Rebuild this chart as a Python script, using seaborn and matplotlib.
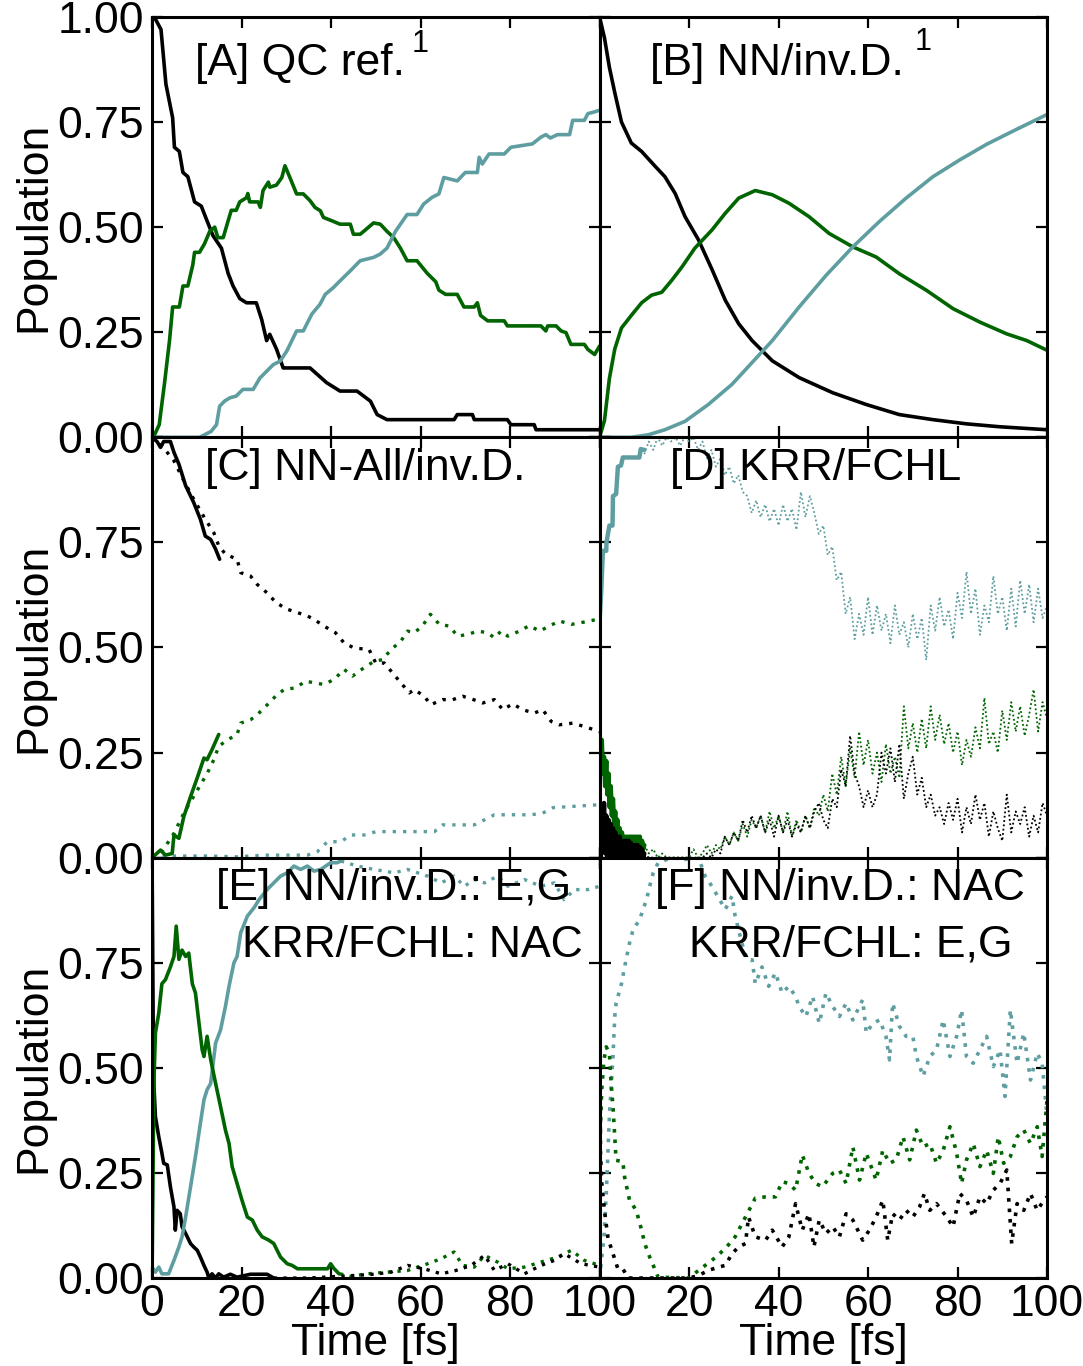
import matplotlib
matplotlib.use('Agg')
import numpy as np
import seaborn as sns
import matplotlib.pyplot as plt

BLACK = 'black'
GREEN = '#006400'
TEAL = '#5f9ea0'

# ---------------- [A] QC reference ----------------
a_black_t = [0, 0.5, 2, 3.1, 4.6, 5, 6.1, 6.9, 8, 9.5, 11, 12.1, 13.6, 15.5, 17, 18.1, 19.6, 21.1, 23.3,
             24.5, 25.6, 26.3, 27.8, 29.3, 35.3, 39, 42, 45.8, 48.8, 50.3, 52.5, 67.5, 68.2, 71.6, 72,
             79.4, 80.2, 85.4, 85.8, 100]
a_black = [1.0, 1.0, 0.97, 0.84, 0.76, 0.69, 0.68, 0.63, 0.62, 0.56, 0.55, 0.52, 0.48, 0.45, 0.39, 0.36,
           0.33, 0.32, 0.32, 0.28, 0.23, 0.245, 0.21, 0.165, 0.165, 0.13, 0.11, 0.11, 0.086, 0.054, 0.042,
           0.042, 0.054, 0.054, 0.042, 0.042, 0.03, 0.03, 0.018, 0.018]
a_green_t = [0, 0.3, 1.6, 2.8, 3.9, 4.6, 6.1, 6.9, 8, 9.1, 9.5, 10.6, 11.7, 12.9, 14, 14.7, 15.9, 17, 17.7,
             18.8, 19.6, 21.1, 21.4, 21.8, 23.7, 24.2, 24.8, 26, 26.3, 27.8, 29, 29.7, 30.8, 32.3, 33.8,
             35.3, 36.4, 37.6, 38.3, 40.2, 42, 44.3, 45, 46.5, 47.3, 48.4, 49.5, 51, 52.5, 54, 55.5, 57,
             59.2, 61.5, 63.4, 64.1, 65.6, 68.2, 69.7, 72, 72.7, 73.4, 75, 78.7, 79.4, 86.9, 88, 88.4,
             90.3, 91.4, 92.5, 93.6, 96.6, 97.4, 98.9, 100]
a_green = [0.0, 0.0, 0.03, 0.13, 0.23, 0.31, 0.31, 0.36, 0.36, 0.41, 0.44, 0.44, 0.46, 0.49, 0.50, 0.475,
           0.475, 0.515, 0.54, 0.54, 0.56, 0.57, 0.58, 0.56, 0.56, 0.547, 0.587, 0.607, 0.595, 0.60, 0.618,
           0.646, 0.618, 0.579, 0.579, 0.563, 0.547, 0.539, 0.523, 0.515, 0.507, 0.507, 0.483, 0.483, 0.49,
           0.50, 0.51, 0.507, 0.49, 0.475, 0.45, 0.42, 0.42, 0.39, 0.37, 0.35, 0.34, 0.34, 0.31, 0.31, 0.32,
           0.29, 0.277, 0.277, 0.265, 0.265, 0.253, 0.265, 0.265, 0.253, 0.249, 0.221, 0.221, 0.209, 0.197,
           0.217]
a_teal_t = [0, 10.6, 13.2, 14.4, 15.1, 16.2, 17.4, 18.8, 20.3, 22.6, 24.1, 25.6, 27.1, 28.6, 30.1, 32.3,
            33.8, 35.7, 37.5, 38.7, 40.5, 42, 44.3, 46.5, 49.5, 51, 52.5, 54.4, 57, 59.2, 60.7, 62.6, 64.1,
            65.2, 68.2, 70, 72.7, 73.1, 73.8, 75.3, 78.7, 80.2, 85, 86.9, 88, 89, 90.6, 93.3, 94, 96.6,
            97.4, 98.5, 100]
a_teal = [0, 0, 0.014, 0.03, 0.074, 0.086, 0.094, 0.098, 0.114, 0.114, 0.141, 0.157, 0.173, 0.181, 0.205,
          0.253, 0.253, 0.293, 0.316, 0.34, 0.356, 0.372, 0.396, 0.42, 0.428, 0.436, 0.45, 0.49, 0.53, 0.53,
          0.555, 0.571, 0.579, 0.618, 0.61, 0.63, 0.63, 0.666, 0.65, 0.674, 0.674, 0.69, 0.698, 0.714,
          0.72, 0.712, 0.72, 0.72, 0.754, 0.754, 0.77, 0.773, 0.778]

# ---------------- [B] NN/inv.D. ----------------
b_black_t = [0, 1.1, 2.2, 3.4, 4.9, 7.1, 9.4, 12.4, 14.6, 16.9, 19.1, 22.1, 25.1, 28.1, 31.1, 34.1, 38.6,
             44.6, 52.1, 59.6, 67, 74.5, 82, 89.5, 100]
b_black = [1.0, 0.95, 0.88, 0.82, 0.75, 0.70, 0.68, 0.645, 0.62, 0.58, 0.525, 0.47, 0.40, 0.326, 0.27,
           0.23, 0.182, 0.142, 0.106, 0.078, 0.054, 0.042, 0.032, 0.025, 0.018]
b_green_t = [0, 1.1, 2.2, 3.4, 4.9, 7.1, 9.4, 11.6, 13.9, 16.1, 18.4, 21.3, 25.1, 28.1, 31.1, 34.8, 38.6,
             42.3, 46.8, 51.3, 56.6, 61.8, 67, 73, 79, 85, 91, 95.5, 100]
b_green = [0.0, 0.04, 0.14, 0.21, 0.26, 0.29, 0.32, 0.338, 0.345, 0.373, 0.405, 0.45, 0.493, 0.533, 0.569,
           0.587, 0.577, 0.557, 0.525, 0.485, 0.453, 0.429, 0.389, 0.35, 0.306, 0.274, 0.246, 0.23, 0.207]
b_teal_t = [0, 7.1, 10.9, 14.6, 19.1, 24.3, 29.6, 34.1, 38.6, 44.6, 50.6, 56.6, 62.5, 68.5, 74.5, 80.5,
            86.5, 92.5, 100]
b_teal = [0, 0, 0.006, 0.018, 0.038, 0.078, 0.126, 0.178, 0.23, 0.31, 0.385, 0.453, 0.513, 0.569, 0.62,
          0.66, 0.697, 0.729, 0.768]

# ---------------- [C] NN-All/inv.D. ----------------
c_black_solid_t = [0, 1.1, 1.9, 2.6, 4.1, 4.9, 6, 7.5, 9.3, 10.8, 11.9, 13.1, 14.2, 15.1]
c_black_solid = [1.0, 0.99, 0.976, 0.99, 0.99, 0.964, 0.936, 0.885, 0.845, 0.805, 0.765, 0.757, 0.734, 0.71]
c_green_solid_t = [0, 1.9, 3, 4.5, 4.9, 6, 7.1, 8.6, 10.1, 11.6, 12.3, 13.4, 14.9]
c_green_solid = [0.0, 0.018, 0.006, 0.01, 0.054, 0.046, 0.098, 0.145, 0.19, 0.237, 0.233, 0.257, 0.293]
c_black_t = [0, 2.2, 4.9, 6.7, 9.3, 11.9, 13.8, 14.9, 16.4, 19, 19.8, 22, 23.5, 25.7, 27.6, 29.9, 32.5,
             34.7, 36.2, 38.4, 41, 42.9, 45.1, 48.5, 50, 51.9, 53.7, 55.6, 57.5, 58.6, 60.8, 62.3, 64.9,
             67.2, 69.4, 71.3, 73.9, 76.5, 78.4, 80.6, 82.8, 85.4, 87.3, 89.2, 91, 94, 96.6, 100]
c_black = [1.0, 0.98, 0.944, 0.905, 0.853, 0.805, 0.773, 0.742, 0.722, 0.71, 0.678, 0.67, 0.65, 0.63,
           0.608, 0.592, 0.583, 0.575, 0.567, 0.551, 0.535, 0.511, 0.499, 0.495, 0.463, 0.463, 0.44, 0.416,
           0.392, 0.40, 0.384, 0.364, 0.376, 0.376, 0.384, 0.378, 0.368, 0.376, 0.352, 0.366, 0.352, 0.344,
           0.352, 0.324, 0.316, 0.32, 0.312, 0.30]
c_green_t = [0, 2.2, 4.9, 7.1, 9.7, 12.3, 13.8, 14.9, 16.8, 19, 19.8, 22, 23.5, 25.4, 27.6, 29.5, 32.1,
             34.3, 36.2, 38.4, 40.7, 42.9, 44.8, 47, 49.6, 51.5, 53.4, 55.6, 57.1, 58.6, 60.4, 62.2, 64.2,
             66.4, 68.3, 70.5, 72.8, 75, 76.5, 78, 79.5, 82.1, 84.3, 86.6, 88.8, 91, 93.7, 96.3, 100]
c_green = [0, 0.014, 0.058, 0.106, 0.153, 0.2, 0.233, 0.265, 0.28, 0.293, 0.32, 0.328, 0.34, 0.36, 0.384,
           0.40, 0.404, 0.42, 0.416, 0.412, 0.424, 0.448, 0.432, 0.449, 0.467, 0.471, 0.495, 0.515, 0.539,
           0.535, 0.551, 0.579, 0.555, 0.551, 0.527, 0.531, 0.539, 0.535, 0.523, 0.539, 0.527, 0.539, 0.552,
           0.539, 0.551, 0.563, 0.555, 0.56, 0.568]
c_teal_t = [0, 12.3, 19, 25, 34.7, 36.9, 39.2, 42.2, 44.4, 47.8, 50, 63.1, 64.9, 72, 74.3, 76.5, 84.7,
            87.3, 89.6, 100]
c_teal = [0.004, 0.004, 0.002, 0.006, 0.006, 0.014, 0.038, 0.038, 0.054, 0.054, 0.062, 0.062, 0.078,
          0.078, 0.09, 0.102, 0.102, 0.106, 0.119, 0.126]

# ---------------- [D] KRR/FCHL ----------------
d_solid_t = np.arange(0, 10.01, 0.25)
d_green_solid = [0.31, 0.21, 0.28, 0.20, 0.24, 0.17, 0.23, 0.15, 0.20, 0.12, 0.17, 0.10, 0.14, 0.08, 0.11,
                 0.06, 0.09, 0.05, 0.07, 0.03, 0.06, 0.02, 0.05, 0.02, 0.05, 0.01, 0.05, 0.02, 0.05, 0.01,
                 0.05, 0.02, 0.05, 0.01, 0.05, 0.02, 0.05, 0.01, 0.04, 0.02, 0.03]
d_black_solid = [0.15, 0.0, 0.12, 0.02, 0.13, 0.01, 0.10, 0.0, 0.09, 0.02, 0.08, 0.0, 0.07, 0.01, 0.06,
                 0.0, 0.05, 0.01, 0.05, 0.0, 0.04, 0.01, 0.04, 0.0, 0.04, 0.01, 0.04, 0.0, 0.035, 0.01,
                 0.03, 0.0, 0.03, 0.01, 0.03, 0.0, 0.025, 0.005, 0.02, 0.0, 0.01]
d_teal_solid_t = [0, 0.05, 0.4, 0.75, 1.5, 1.55, 2.2, 2.9, 3.0, 3.7, 4.1, 4.8, 5.2, 8.9, 9.2, 10]
d_teal_solid = [0, 0.57, 0.64, 0.73, 0.73, 0.75, 0.79, 0.79, 0.86, 0.865, 0.93, 0.933, 0.952, 0.952,
                0.972, 0.97]
d_dot_t = np.arange(10, 101, 1)
d_teal = [0.96, 0.99, 0.97, 1.0, 0.98, 1.0, 0.99, 1.0, 0.98, 1.0,
          0.99, 1.0, 0.97, 0.99, 0.95, 0.97, 0.93, 0.95, 0.91, 0.93,
          0.89, 0.91, 0.87, 0.86, 0.82, 0.85, 0.81, 0.84, 0.80, 0.83,
          0.79, 0.84, 0.80, 0.83, 0.78, 0.87, 0.81, 0.86, 0.82, 0.77,
          0.79, 0.72, 0.74, 0.66, 0.68, 0.58, 0.62, 0.52, 0.58, 0.53,
          0.62, 0.53, 0.60, 0.54, 0.58, 0.51, 0.60, 0.53, 0.56, 0.50,
          0.58, 0.52, 0.57, 0.47, 0.60, 0.54, 0.62, 0.55, 0.59, 0.52,
          0.63, 0.57, 0.68, 0.58, 0.64, 0.53, 0.60, 0.56, 0.67, 0.58,
          0.62, 0.54, 0.64, 0.55, 0.66, 0.58, 0.65, 0.56, 0.64, 0.57,
          0.60]
d_green = [0.03, 0.01, 0.02, 0.0, 0.01, 0.0, 0.0, 0.0, 0.0, 0.0,
           0.0, 0.02, 0.0, 0.01, 0.03, 0.01, 0.03, 0.02, 0.05, 0.03,
           0.06, 0.04, 0.08, 0.05, 0.09, 0.07, 0.10, 0.06, 0.11, 0.07,
           0.10, 0.06, 0.11, 0.05, 0.09, 0.06, 0.10, 0.07, 0.12, 0.10,
           0.15, 0.11, 0.20, 0.15, 0.24, 0.17, 0.26, 0.19, 0.30, 0.22,
           0.28, 0.20, 0.25, 0.18, 0.27, 0.20, 0.24, 0.19, 0.36, 0.26,
           0.32, 0.25, 0.33, 0.26, 0.36, 0.28, 0.34, 0.27, 0.32, 0.25,
           0.30, 0.22, 0.28, 0.24, 0.31, 0.26, 0.38, 0.27, 0.30, 0.25,
           0.35, 0.28, 0.37, 0.30, 0.36, 0.29, 0.34, 0.40, 0.30, 0.37,
           0.33]
d_black = [0.01, 0.0, 0.0, 0.0, 0.0, 0.0, 0.0, 0.0, 0.0, 0.0,
           0.0, 0.0, 0.0, 0.0, 0.01, 0.0, 0.02, 0.01, 0.05, 0.03,
           0.06, 0.04, 0.09, 0.06, 0.10, 0.07, 0.10, 0.06, 0.09, 0.05,
           0.10, 0.06, 0.09, 0.05, 0.08, 0.06, 0.10, 0.07, 0.11, 0.13,
           0.09, 0.07, 0.14, 0.12, 0.21, 0.17, 0.29, 0.20, 0.17, 0.12,
           0.16, 0.12, 0.15, 0.25, 0.20, 0.26, 0.18, 0.27, 0.14, 0.20,
           0.24, 0.15, 0.19, 0.12, 0.15, 0.10, 0.12, 0.08, 0.13, 0.09,
           0.14, 0.06, 0.12, 0.08, 0.15, 0.09, 0.13, 0.05, 0.11, 0.07,
           0.04, 0.15, 0.06, 0.11, 0.08, 0.12, 0.05, 0.10, 0.06, 0.13,
           0.10]

# ---------------- [E] NN/inv.D.: E,G  KRR/FCHL: NAC ----------------
e_black_solid_t = [0, 0.3, 0.4, 0.75, 1.5, 2.2, 2.6, 3.4, 4.1, 4.9, 5.2, 5.6, 6.3, 6.7, 7.5, 8.6, 9.3,
                   10.1, 10.8, 11.6, 12.3, 12.7, 13.4, 14.2, 14.9, 16, 17.5, 19, 22, 25.7, 27.2]
e_black_solid = [1.0, 0.53, 0.463, 0.384, 0.336, 0.297, 0.273, 0.269, 0.217, 0.169, 0.114, 0.161, 0.153,
                 0.122, 0.106, 0.082, 0.074, 0.066, 0.05, 0.03, 0.014, 0.0, 0.01, 0.0, 0.01, 0.002, 0.009,
                 0.002, 0.009, 0.009, 0.0]
e_green_solid_t = [0, 0.4, 0.75, 1.5, 2.2, 3, 4.1, 4.9, 5.4, 6, 6.7, 7.5, 8.2, 9, 9.7, 10.4, 11.2, 11.6,
                   12.3, 13.1, 14.2, 15.3, 16.4, 17.2, 17.9, 19, 20.1, 21.3, 22.4, 23.5, 24.6, 26.1, 27.2,
                   28.7, 30.2, 31.3, 32.5, 39.2, 39.9, 40.7, 41.8]
e_green_solid = [0.0, 0.46, 0.583, 0.63, 0.70, 0.71, 0.74, 0.765, 0.837, 0.758, 0.78, 0.765, 0.773, 0.70,
                 0.678, 0.614, 0.543, 0.527, 0.575, 0.52, 0.463, 0.408, 0.352, 0.32, 0.265, 0.225, 0.185,
                 0.145, 0.138, 0.114, 0.098, 0.09, 0.082, 0.05, 0.034, 0.03, 0.022, 0.022, 0.034, 0.022,
                 0.01]
e_teal_solid_t = [0, 0.75, 1.5, 2.2, 3.7, 4.9, 6, 6.7, 7.5, 8.6, 9.7, 10.8, 11.6, 12.3, 13.1, 14.2, 15.3,
                  16.4, 17.2, 18.3, 19, 19.8, 21.3, 22.8, 23.9, 25.7, 27.2, 28.7, 30.2, 31.7, 33.2, 34.7,
                  36.2, 37.7, 39.9, 41.4, 42.2]
e_teal_solid = [0.026, 0.014, 0.026, 0.01, 0.01, 0.042, 0.074, 0.098, 0.145, 0.217, 0.289, 0.368, 0.424,
                0.448, 0.463, 0.559, 0.59, 0.646, 0.694, 0.75, 0.765, 0.821, 0.861, 0.881, 0.90, 0.924,
                0.94, 0.956, 0.964, 0.98, 0.972, 0.98, 0.968, 0.972, 0.988, 0.988, 0.992]
e_green_t = [42, 44.4, 48.1, 52.6, 57.1, 61.6, 64.6, 67.5, 69.4, 72, 74.3, 77.2, 79.5, 83.2, 86.9, 90.7,
             93.7, 96.6, 100]
e_green = [0.01, 0.004, 0.01, 0.014, 0.018, 0.034, 0.046, 0.062, 0.03, 0.026, 0.054, 0.038, 0.022, 0.026,
           0.038, 0.05, 0.066, 0.042, 0.03]
e_black_t = [27.2, 35, 45.1, 49.6, 53.4, 57.1, 60.8, 64.6, 67.9, 71.3, 74.3, 76.5, 79.5, 83.2, 86.9, 89.9,
             92.1, 95.9, 100]
e_black = [0.0, 0.0, 0.006, 0.009, 0.014, 0.03, 0.022, 0.01, 0.018, 0.03, 0.054, 0.018, 0.034, 0.01, 0.03,
           0.042, 0.058, 0.034, 0.026]
e_teal_t = [42.2, 45.9, 49.6, 54.1, 57.1, 61.6, 64.6, 67.5, 69.8, 72, 74.3, 77.2, 79.5, 83.2, 86.9, 89.9,
            92.1, 94.4, 97.4, 100]
e_teal = [0.992, 0.98, 0.972, 0.964, 0.972, 0.956, 0.94, 0.956, 0.932, 0.948, 0.94, 0.956, 0.932, 0.948,
          0.932, 0.94, 0.90, 0.924, 0.924, 0.932]

# ---------------- [F] NN/inv.D.: NAC  KRR/FCHL: E,G ----------------
f_teal_t = [0, 1, 1.5, 2.2, 3, 3.4, 3.7, 4.9, 5.6, 6.7, 7.5, 9, 9.7, 10.5, 11.2, 12, 13.1, 16.1, 19.1,
            22.1, 23.6, 25.1, 28.1, 29.6, 30.3, 31.8, 33, 34.1, 34.8, 36.3, 37.8, 39.3, 40.8, 42.3, 43.8,
            44.6, 46.1, 47.6, 49.1, 50.6, 52.1, 53.6, 55.1, 56.6, 58.8, 59.6, 61.1, 62.6, 64, 64.8, 65.5,
            67, 68.5, 70, 70.8, 72.3, 73.8, 75.3, 76.8, 78.3, 79.8, 80.9, 82, 83.5, 85, 86.5, 88, 89.5,
            90.6, 91.8, 93.3, 94.8, 96.3, 97.8, 98.9, 100]
f_teal = [0, 0.1, 0.2, 0.384, 0.527, 0.622, 0.654, 0.70, 0.74, 0.797, 0.829, 0.853, 0.877, 0.90, 0.932,
          0.964, 0.988, 1.0, 0.996, 1.0, 0.956, 0.932, 0.877, 0.909, 0.861, 0.797, 0.757, 0.757, 0.70,
          0.74, 0.694, 0.726, 0.678, 0.694, 0.67, 0.646, 0.622, 0.67, 0.606, 0.678, 0.646, 0.622, 0.654,
          0.614, 0.662, 0.583, 0.606, 0.614, 0.575, 0.519, 0.654, 0.599, 0.575, 0.575, 0.527, 0.48, 0.527,
          0.543, 0.614, 0.527, 0.575, 0.638, 0.527, 0.511, 0.543, 0.575, 0.503, 0.543, 0.432, 0.638, 0.511,
          0.583, 0.471, 0.535, 0.511, 0.384]
f_green_t = [0, 0.5, 1, 1.5, 2.2, 2.6, 3, 3.4, 3.7, 5.2, 5.6, 6.7, 8.2, 9.4, 10.1, 11.2, 12.4, 13.1, 20,
             22.1, 25.1, 28.1, 30.3, 32.6, 34.8, 37.1, 39.3, 40.8, 42.3, 43.8, 45.3, 46.8, 48.3, 49.8,
             52.1, 53.6, 55.1, 56.6, 58.1, 59.6, 61.8, 63.3, 64.8, 66.3, 67.8, 69.3, 70.8, 72.3, 73.8,
             75.3, 76.8, 78.3, 79.8, 80.9, 82, 83.5, 85, 86.5, 88, 89.1, 90.3, 91.8, 93.3, 94.8, 96.3,
             97.8, 98.9, 100]
f_green = [0.3, 0.45, 0.52, 0.55, 0.535, 0.463, 0.408, 0.336, 0.28, 0.277, 0.24, 0.185, 0.161, 0.114,
           0.082, 0.05, 0.02, 0.002, 0.0, 0.018, 0.042, 0.07, 0.098, 0.145, 0.19, 0.193, 0.193, 0.229,
           0.225, 0.209, 0.293, 0.249, 0.225, 0.217, 0.249, 0.257, 0.225, 0.312, 0.233, 0.297, 0.233, 0.304,
           0.273, 0.281, 0.336, 0.281, 0.352, 0.312, 0.32, 0.273, 0.304, 0.36, 0.297, 0.225, 0.281, 0.32,
           0.265, 0.304, 0.249, 0.336, 0.273, 0.289, 0.336, 0.352, 0.32, 0.36, 0.289, 0.424]
f_black_t = [0, 0.2, 0.5, 1.1, 1.9, 3, 4.1, 5.2, 6.4, 20, 22.1, 24.3, 26.6, 28.1, 29.6, 31.1, 32.6, 33.3,
             34.8, 37.1, 38.6, 40.8, 42.3, 43.8, 45.3, 46.8, 47.9, 49.1, 50.6, 52.1, 53.6, 55.1, 56.6,
             58.8, 60.3, 61.8, 63.3, 64.4, 65.5, 67, 68.5, 70, 71.5, 72.6, 73.8, 75.3, 77.6, 79, 80.5,
             82, 83.5, 85, 86.5, 88, 89.5, 91, 92.1, 93.3, 94.8, 96.3, 97.8, 99.3, 100]
f_black = [1.0, 0.30, 0.225, 0.16, 0.094, 0.058, 0.022, 0.022, 0.0, 0.0, 0.006, 0.018, 0.026, 0.03, 0.058,
           0.074, 0.082, 0.145, 0.098, 0.09, 0.114, 0.074, 0.098, 0.177, 0.114, 0.153, 0.074, 0.138, 0.106,
           0.122, 0.098, 0.153, 0.138, 0.09, 0.114, 0.145, 0.185, 0.09, 0.153, 0.138, 0.161, 0.145, 0.169,
           0.201, 0.161, 0.177, 0.145, 0.122, 0.201, 0.185, 0.145, 0.193, 0.177, 0.209, 0.225, 0.257, 0.082,
           0.177, 0.161, 0.201, 0.161, 0.185, 0.193]

x_ticks = [0, 20, 40, 60, 80, 100]
y_ticks = [0.0, 0.25, 0.5, 0.75, 1.0]
y_ticklabels = ['0.00', '0.25', '0.50', '0.75', '1.00']

sns.set_theme(style='ticks', rc={'text.color': 'black', 'axes.labelcolor': 'black',
                                 'xtick.color': 'black', 'ytick.color': 'black',
                                 'axes.edgecolor': 'black'})
plt.rcParams['font.family'] = ['Liberation Sans', 'DejaVu Sans']
FS = 32
LW = 2.6

SOLID = '-'
DOT_C = (0, (1, 2.1))
DOT_D = (0, (1, 1.4))
DOT_F = (0, (1, 1.9))


def draw(ax, t, y, color, ls=SOLID, lw=LW):
    sns.lineplot(x=list(t), y=list(y), ax=ax, color=color, linestyle=ls, lw=lw,
                 estimator=None, sort=False, legend=False)


def main():
    fig, axes = plt.subplots(3, 2, figsize=(10.83, 13.66), dpi=100)
    fig.subplots_adjust(left=0.1404, right=0.9668, top=0.9876, bottom=0.0644, hspace=0, wspace=0)
    (ax_a, ax_b), (ax_c, ax_d), (ax_e, ax_f) = axes

    # A
    draw(ax_a, a_black_t, a_black, BLACK)
    draw(ax_a, a_green_t, a_green, GREEN)
    draw(ax_a, a_teal_t, a_teal, TEAL)
    # B
    draw(ax_b, b_black_t, b_black, BLACK)
    draw(ax_b, b_green_t, b_green, GREEN)
    draw(ax_b, b_teal_t, b_teal, TEAL)
    # C
    draw(ax_c, c_teal_t, c_teal, TEAL, DOT_C, 2.4)
    draw(ax_c, c_green_t, c_green, GREEN, DOT_C, 2.4)
    draw(ax_c, c_black_t, c_black, BLACK, DOT_C, 2.4)
    draw(ax_c, c_black_solid_t, c_black_solid, BLACK)
    draw(ax_c, c_green_solid_t, c_green_solid, GREEN)
    # D
    draw(ax_d, d_dot_t, d_teal, TEAL, DOT_D, 1.3)
    draw(ax_d, d_dot_t, d_green, GREEN, DOT_D, 1.3)
    draw(ax_d, d_dot_t, d_black, BLACK, DOT_D, 1.3)
    draw(ax_d, d_teal_solid_t, d_teal_solid, TEAL, SOLID, 3.2)
    draw(ax_d, d_solid_t, d_green_solid, GREEN, SOLID, 3.2)
    draw(ax_d, d_solid_t, d_black_solid, BLACK, SOLID, 3.2)
    # E
    draw(ax_e, e_teal_t, e_teal, TEAL, DOT_F, 2.4)
    draw(ax_e, e_green_t, e_green, GREEN, DOT_F, 2.4)
    draw(ax_e, e_black_t, e_black, BLACK, DOT_F, 2.4)
    draw(ax_e, e_black_solid_t, e_black_solid, BLACK)
    draw(ax_e, e_teal_solid_t, e_teal_solid, TEAL)
    draw(ax_e, e_green_solid_t, e_green_solid, GREEN)
    # F
    draw(ax_f, f_teal_t, f_teal, TEAL, DOT_F, 2.6)
    draw(ax_f, f_green_t, f_green, GREEN, DOT_F, 2.6)
    draw(ax_f, f_black_t, f_black, BLACK, DOT_F, 2.6)

    for i, row in enumerate(axes):
        for j, ax in enumerate(row):
            ax.set_xlim(0, 100)
            ax.set_ylim(0, 1)
            ax.set_xticks(x_ticks)
            ax.set_yticks(y_ticks)
            ax.tick_params(direction='in', top=True, right=True, length=8, width=1.6,
                           labelsize=FS, pad=6, colors='black')
            ax.tick_params(axis='x', pad=4)
            for s in ax.spines.values():
                s.set_linewidth(2.2)
                s.set_color('black')
            ax.set_xlabel('')
            ax.set_ylabel('')
            if j == 0:
                labels = list(y_ticklabels)
                if i > 0:
                    labels[-1] = ''
                ax.set_yticklabels(labels)
                ax.set_ylabel('Population', fontsize=FS, labelpad=2, color='black')
            else:
                ax.tick_params(labelleft=False)
            if i == 2:
                xl = [str(v) for v in x_ticks]
                if j == 1:
                    xl[0] = ''
                ax.set_xticklabels(xl)
                ax.set_xlabel('Time [fs]', fontsize=FS, labelpad=-1, color='black')
            else:
                ax.tick_params(labelbottom=False)

    kw = dict(fontsize=FS, va='baseline', ha='left', color='black')
    sup = dict(fontsize=22, va='baseline', ha='left', color='black')
    ax_a.text(0.096, 0.862, '[A] QC ref.', transform=ax_a.transAxes, **kw)
    ax_a.text(0.580, 0.917, '1', transform=ax_a.transAxes, **sup)
    ax_b.text(0.113, 0.862, '[B] NN/inv.D.', transform=ax_b.transAxes, **kw)
    ax_b.text(0.705, 0.921, '1', transform=ax_b.transAxes, **sup)
    ax_c.text(0.119, 0.898, '[C] NN-All/inv.D.', transform=ax_c.transAxes, **kw)
    ax_d.text(0.158, 0.898, '[D] KRR/FCHL', transform=ax_d.transAxes, **kw)
    ax_e.text(0.143, 0.900, '[E] NN/inv.D.: E,G', transform=ax_e.transAxes, **kw)
    ax_e.text(0.201, 0.764, 'KRR/FCHL: NAC', transform=ax_e.transAxes, **kw)
    ax_f.text(0.124, 0.900, '[F] NN/inv.D.: NAC', transform=ax_f.transAxes, **kw)
    ax_f.text(0.199, 0.764, 'KRR/FCHL: E,G', transform=ax_f.transAxes, **kw)

    fig.savefig('out.png', dpi=100)


if __name__ == "__main__":
    main()
